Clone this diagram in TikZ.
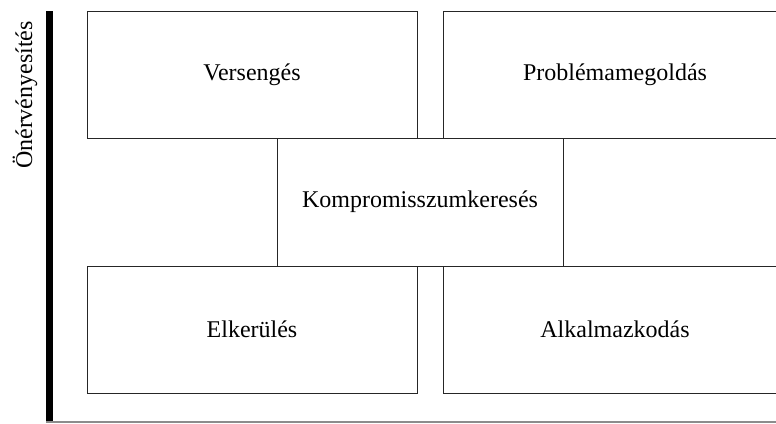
\documentclass[tikz,border=0pt]{standalone}
\usepackage{fontspec}
\setmainfont{Liberation Serif}
\begin{document}
\begin{tikzpicture}[x=1pt,y=-1pt,
  quad/.style={draw=black!85, line width=1pt, inner sep=0pt, fill=white,
    font=\fontsize{24}{28}\selectfont},
  axisline/.style={line width=7pt, black},
  baseline/.style={line width=1.2pt, black!45}]
\useasboundingbox (0,0) rectangle (776,423);
\clip (0,0) rectangle (776,423);

% outer boxes of the grid
\node[quad, minimum width=330pt, minimum height=127pt] (vers) at (252,74.5) {Versengés};
\node[quad, minimum width=344pt, minimum height=127pt] (prob) at (615,74.5) {Problémamegoldás};
\node[quad, minimum width=330pt, minimum height=127pt] (elk)  at (252,329.5) {Elkerülés};
\node[quad, minimum width=344pt, minimum height=127pt] (alk)  at (615,329.5) {Alkalmazkodás};
% central box
\node[quad, minimum width=286pt, minimum height=128pt] (komp) at (420,202) {Kompromisszumkeresés};

% vertical axis and its label
\coordinate (ytop) at (49.5,11);
\coordinate (ybot) at (49.5,423);
\draw[axisline] (ytop) -- (ybot);
\node[rotate=90, font=\fontsize{24}{28}\selectfont, inner sep=0pt] (ylab) at (25,95) {Önérvényesítés};

% horizontal axis
\coordinate (xl) at (46,422);
\coordinate (xr) at (776,422);
\draw[baseline] (xl) -- (xr);
\end{tikzpicture}
\end{document}
